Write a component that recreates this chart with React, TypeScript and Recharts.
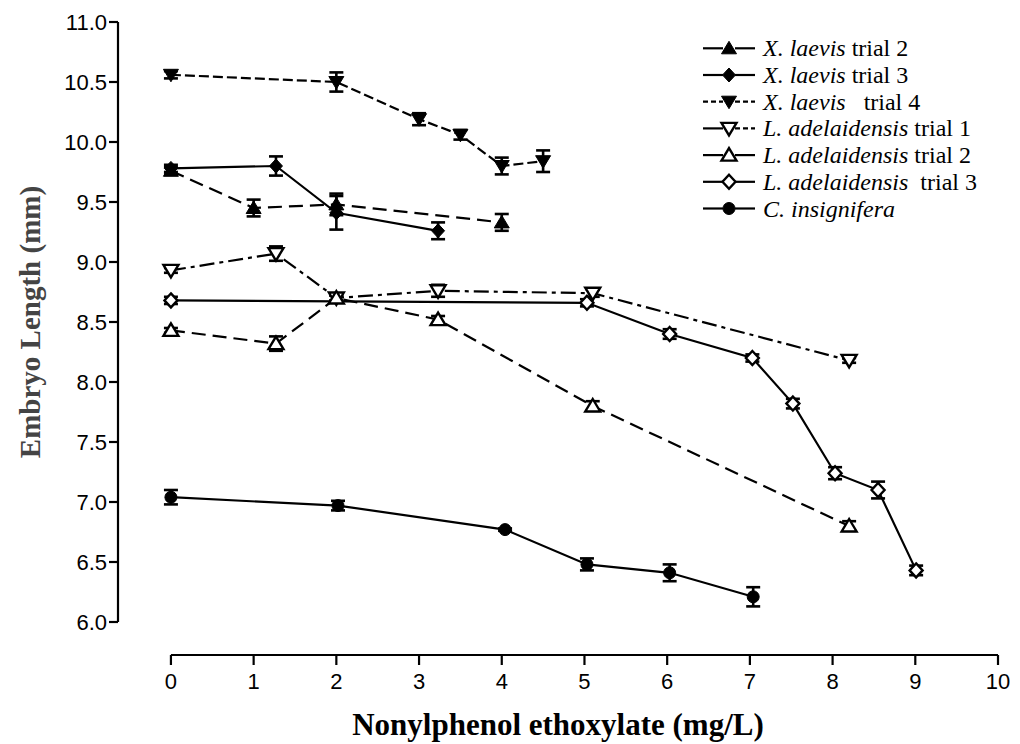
import React from 'react';
import { LineChart, Line, XAxis, YAxis, ErrorBar, ReferenceLine } from 'recharts';

// concentrations (mg/L), embryo lengths (mm) and SEM for each series
const xl2X = [0, 1, 2, 4];
const xl2Y = [9.76, 9.45, 9.48, 9.33];
const xl2E = [0.03, 0.07, 0.09, 0.07];

const xl3X = [0, 1.27, 2, 3.23];
const xl3Y = [9.78, 9.8, 9.41, 9.26];
const xl3E = [0.03, 0.08, 0.14, 0.07];

const xl4X = [0, 2, 3, 3.5, 4, 4.5];
const xl4Y = [10.56, 10.5, 10.19, 10.06, 9.8, 9.84];
const xl4E = [0.03, 0.08, 0.05, 0.04, 0.07, 0.09];

const la1X = [0, 1.27, 2, 3.23, 5.1, 8.2];
const la1Y = [8.93, 9.07, 8.7, 8.76, 8.74, 8.18];
const la1E = [0.02, 0.06, 0.02, 0.05, 0.03, 0.02];

const la2X = [0, 1.27, 2, 3.23, 5.1, 8.2];
const la2Y = [8.43, 8.32, 8.7, 8.52, 7.8, 6.8];
const la2E = [0.02, 0.06, 0.02, 0.03, 0.04, 0.04];

const la3X = [0, 5.03, 6.03, 7.03, 7.52, 8.03, 8.55, 9.01];
const la3Y = [8.68, 8.66, 8.4, 8.2, 7.82, 7.24, 7.1, 6.43];
const la3E = [0.03, 0.03, 0.04, 0.03, 0.04, 0.05, 0.07, 0.04];

const ciX = [0, 2.02, 4.04, 5.03, 6.03, 7.04];
const ciY = [7.04, 6.97, 6.77, 6.48, 6.41, 6.21];
const ciE = [0.06, 0.04, 0.01, 0.05, 0.07, 0.08];

const xTicks = [0, 1, 2, 3, 4, 5, 6, 7, 8, 9, 10];
const yTicks = [6, 6.5, 7, 7.5, 8, 8.5, 9, 9.5, 10, 10.5, 11];

const zip = (xs: number[], ys: number[], es: number[]) =>
  xs.map((x, i) => ({ x, y: ys[i], e: es[i] }));

type Shape = 'triUp' | 'triDown' | 'diamond' | 'circle';

const series = [
  { id: 'xl2', sp: 'X. laevis', rest: ' trial 2', shape: 'triUp' as Shape, filled: true, dash: '14 7', legL: '', legR: '', data: zip(xl2X, xl2Y, xl2E) },
  { id: 'xl3', sp: 'X. laevis', rest: ' trial 3', shape: 'diamond' as Shape, filled: true, dash: '', legL: '', legR: '', data: zip(xl3X, xl3Y, xl3E) },
  { id: 'xl4', sp: 'X. laevis', rest: '   trial 4', shape: 'triDown' as Shape, filled: true, dash: '10 4', legL: '5 3', legR: '5 3', data: zip(xl4X, xl4Y, xl4E) },
  { id: 'la1', sp: 'L. adelaidensis', rest: ' trial 1', shape: 'triDown' as Shape, filled: false, dash: '15 5 4 5', legL: '', legR: '5 3', data: zip(la1X, la1Y, la1E) },
  { id: 'la2', sp: 'L. adelaidensis', rest: ' trial 2', shape: 'triUp' as Shape, filled: false, dash: '14 7', legL: '', legR: '', data: zip(la2X, la2Y, la2E) },
  { id: 'la3', sp: 'L. adelaidensis', rest: '  trial 3', shape: 'diamond' as Shape, filled: false, dash: '', legL: '', legR: '', data: zip(la3X, la3Y, la3E) },
  { id: 'ci', sp: 'C. insignifera', rest: '', shape: 'circle' as Shape, filled: true, dash: '', legL: '', legR: '', data: zip(ciX, ciY, ciE) },
];

function Marker({ shape, filled, cx, cy }: { shape: Shape; filled: boolean; cx: number; cy: number }) {
  const fill = filled ? '#000' : '#fff';
  const sw = filled ? 1 : 2.4;
  if (shape === 'triUp')
    return <polygon points={`${cx},${cy - 7} ${cx + 7.5},${cy + 5.5} ${cx - 7.5},${cy + 5.5}`} fill={fill} stroke="#000" strokeWidth={sw} />;
  if (shape === 'triDown')
    return <polygon points={`${cx},${cy + 7} ${cx + 7.5},${cy - 5.5} ${cx - 7.5},${cy - 5.5}`} fill={fill} stroke="#000" strokeWidth={sw} />;
  if (shape === 'diamond')
    return <polygon points={`${cx},${cy - 7} ${cx + 6.5},${cy} ${cx},${cy + 7} ${cx - 6.5},${cy}`} fill={fill} stroke="#000" strokeWidth={sw} />;
  return <circle cx={cx} cy={cy} r={6} fill={fill} stroke="#000" strokeWidth={sw} />;
}

const tickFont = { fontFamily: '"Liberation Sans", Arial, sans-serif', fontSize: 22, fill: '#000' };
const serif = '"Liberation Serif", "Times New Roman", serif';

export default function App() {
  return (
    <div style={{ position: 'absolute', left: 0, top: 0, width: 1020, height: 744, background: '#fff' }}>
      <LineChart width={1020} height={744} margin={{ top: 22, right: 22, left: 0, bottom: 0 }}>
        <XAxis
          type="number"
          dataKey="x"
          domain={[-0.64, 10]}
          ticks={xTicks}
          height={89}
          axisLine={false}
          tickLine={{ stroke: '#000', strokeWidth: 2.2 }}
          tickSize={10}
          tickMargin={8}
          tick={tickFont}
          interval={0}
          label={{
            value: 'Nonylphenol ethoxylate (mg/L)',
            position: 'insideBottom',
            offset: 9,
            style: { fontFamily: serif, fontWeight: 'bold', fontSize: 31, fill: '#000' },
          }}
        />
        <YAxis
          type="number"
          dataKey="y"
          domain={[5.725, 11]}
          ticks={yTicks}
          width={118}
          axisLine={false}
          tickLine={{ stroke: '#000', strokeWidth: 2.2 }}
          tickSize={9}
          tickMargin={2}
          tick={tickFont}
          interval={0}
          tickFormatter={(v: number) => v.toFixed(1)}
          label={{
            content: () => (
              <text
                x={30}
                y={322}
                transform="rotate(-90 30 322)"
                textAnchor="middle"
                dominantBaseline="central"
                style={{ fontFamily: serif, fontWeight: 'bold', fontSize: 29, fill: '#444' }}
              >
                Embryo Length (mm)
              </text>
            ),
          }}
        />
        <ReferenceLine segment={[{ x: 0, y: 5.725 }, { x: 10, y: 5.725 }]} stroke="#000" strokeWidth={2.2} ifOverflow="visible" />
        <ReferenceLine segment={[{ x: -0.64, y: 6 }, { x: -0.64, y: 11 }]} stroke="#000" strokeWidth={2.2} ifOverflow="visible" />
        {series.map((s) => (
          <Line
            key={s.id}
            data={s.data}
            dataKey="y"
            type="linear"
            stroke="#000"
            strokeWidth={2.2}
            strokeDasharray={s.dash || undefined}
            isAnimationActive={false}
            dot={(p: any) => <Marker key={`${s.id}-${p.index}`} shape={s.shape} filled={s.filled} cx={p.cx} cy={p.cy} />}
            activeDot={false}
          >
            <ErrorBar dataKey="e" direction="y" width={7} stroke="#000" strokeWidth={2.6} />
          </Line>
        ))}
      </LineChart>
      <svg width={1020} height={744} style={{ position: 'absolute', left: 0, top: 0, pointerEvents: 'none' }}>
        {series.map((s, i) => {
          const cy = 48.3 + i * 26.7;
          return (
            <g key={s.id}>
              <line x1={703} y1={cy} x2={723} y2={cy} stroke="#000" strokeWidth={2.2} strokeDasharray={s.legL || undefined} />
              <line x1={735} y1={cy} x2={755} y2={cy} stroke="#000" strokeWidth={2.2} strokeDasharray={s.legR || undefined} />
              <Marker shape={s.shape} filled={s.filled} cx={729} cy={cy} />
              <text
                x={763}
                y={cy + 8}
                style={{ fontFamily: serif, fontSize: 24, fill: '#000', whiteSpace: 'pre' }}
              >
                <tspan fontStyle="italic">{s.sp}</tspan>
                {s.rest}
              </text>
            </g>
          );
        })}
      </svg>
    </div>
  );
}
